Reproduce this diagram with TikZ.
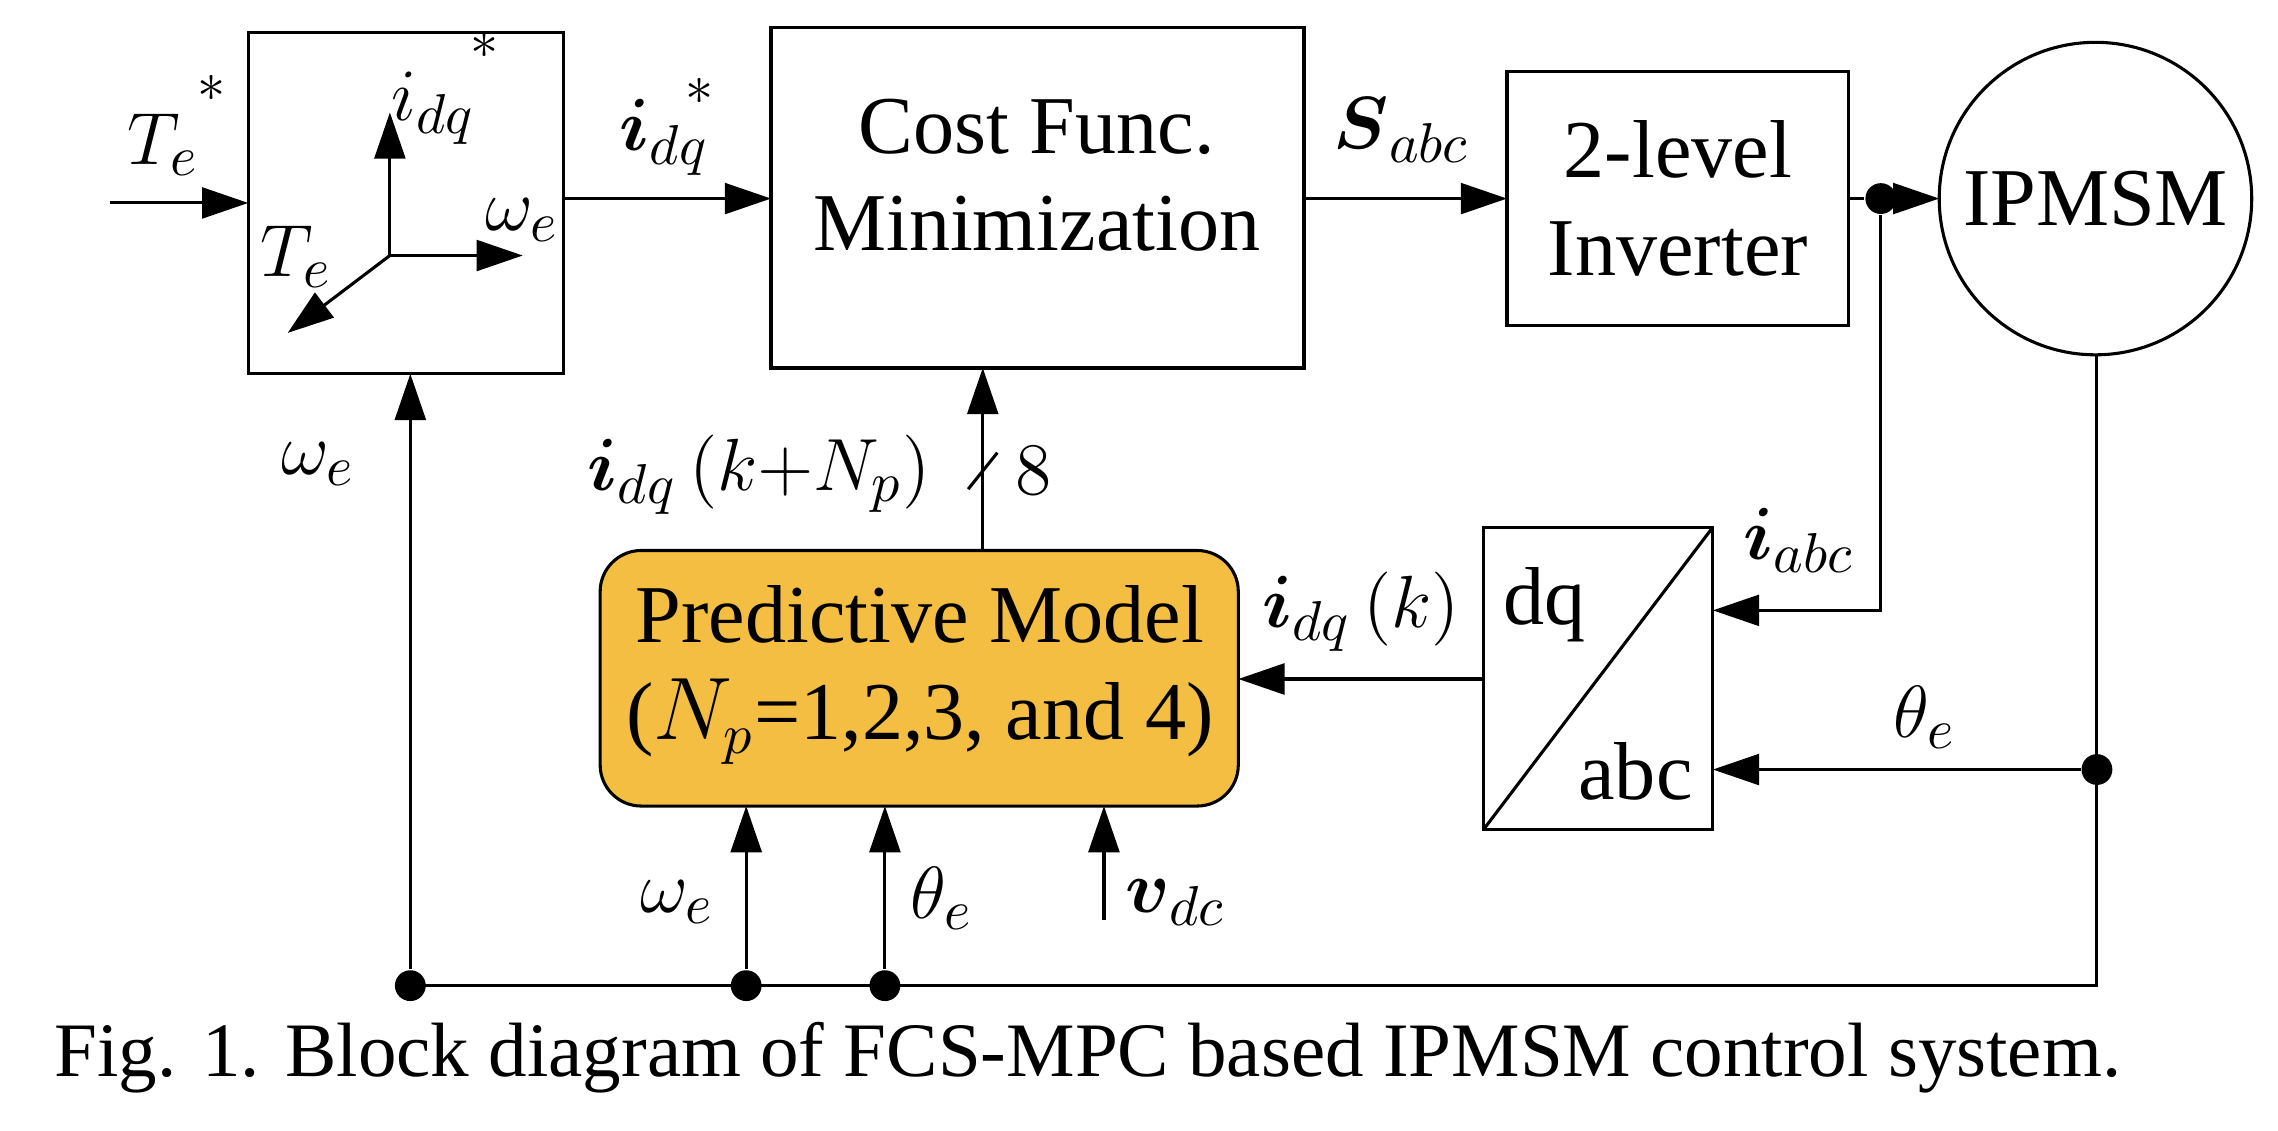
\documentclass[tikz,border=0pt]{standalone}
\usepackage{amsmath}
\usepackage{amssymb}
\usepackage{fontspec}
\setmainfont{Liberation Serif}
\usepackage{tikz}
\usetikzlibrary{calc, arrows.meta, positioning}

\tikzset{
  blk/.style={draw, line width=0.6pt, inner sep=0pt},
  sig/.style={-{Triangle[length=9pt,width=6pt]}, line width=0.6pt},
  dot/.style={fill, circle, inner sep=0pt, minimum size=6pt},
  txt/.style={font=\fontsize{16}{19}\selectfont, align=center}
}

\begin{document}
\begin{tikzpicture}[x=0.01cm, y=-0.01cm, font=\fontsize{15}{18}\selectfont]
        \useasboundingbox (0,0) rectangle (1560,774);

        % blocks
        \draw[blk] (170,22) rectangle (386,256);
        \draw[blk] (528,19) rectangle (893,252);
        \node[txt] (cost) at (710,120) {Cost Func.\\Minimization};
        \draw[blk] (1032,49) rectangle (1266,223);
        \node[txt] (inv) at (1149,136) {2-level\\Inverter};
        \draw[line width=0.6pt] (1435,136) circle (107);
        \node[txt] (mot) at (1435,136) {IPMSM};
        \draw[blk] (1016,361) rectangle (1173,568);
        \draw[line width=0.6pt] (1016,568) -- (1173,361);
        \node[txt] (dq) at (1058,414) {dq};
        \node[txt] (abc) at (1120,528) {abc};
        \draw[blk, fill={rgb,255:red,243;green,190;blue,65}, rounded corners=8pt] (411,377) rectangle (848,552);
        \node[txt] (pm) at (630,462) {Predictive Model\\($N_p$=1,2,3, and 4)};

        % axes inside reference block
        \coordinate (o) at (267,175);
        \draw[sig] (o) -- (267,77);
        \draw[sig] (o) -- (358,175);
        \draw[sig] (o) -- (197,228);
        \node (lid) at (297,74) {$i_{dq}$};
        \node (lst) at (333,40) {$^*$};
        \node (lwe) at (358,151) {$\omega_e$};
        \node (lte) at (203,176) {$T_e$};

        % forward path
        \draw[sig] (75,139) -- (170,139);
        \node at (112,99) {$T_e$};
        \node at (146,70) {$^*$};
        \draw[sig] (386,136) -- (528,136);
        \node at (455,94) {$\boldsymbol{i}_{dq}$};
        \node at (480,72) {$^*$};
        \draw[sig] (893,136) -- (1032,136);
        \node at (960,89) {$\boldsymbol{S}_{abc}$};
        \node[dot] (d1) at (1288,136) {};
        \draw[line width=0.6pt] (1266,136) -- (d1);
        \draw[sig] (d1) -- (1328,136);

        % feedback
        \draw[sig] (d1) |- (1173,418);
        \node at (1232,370) {$\boldsymbol{i}_{abc}$};
        \node[dot] (d2) at (1436,527) {};
        \draw[line width=0.6pt] (1436,243) -- (1436,675) -- (281,675);
        \draw[sig] (d2) -- (1173,527);
        \node at (1318,491) {$\theta_e$};
        \draw[sig] (1016,465) -- (848,465);
        \node at (932,419) {$\boldsymbol{i}_{dq}\,(k)$};
        \draw[sig] (673,377) -- (673,252);
        \draw[line width=0.6pt] (663,335) -- (683,310);
        \node at (708,322) {$8$};
        \node at (520,325) {$\boldsymbol{i}_{dq}\,(k{+}N_p)$};

        % bottom bus
        \node[dot] (b1) at (281,675) {};
        \node[dot] (b2) at (511,675) {};
        \node[dot] (b3) at (606,675) {};
        \draw[sig] (b1) -- (281,256);
        \draw[sig] (b2) -- (511,552);
        \draw[sig] (b3) -- (606,552);
        \draw[sig] (756,630) -- (756,552);
        \node at (218,318) {$\omega_e$};
        \node at (464,618) {$\omega_e$};
        \node at (645,615) {$\theta_e$};
        \node at (805,618) {$\boldsymbol{v}_{dc}$};

        \node[font=\fontsize{15}{18}\selectfont] (cap) at (745,724) {Fig. 1. Block diagram of FCS-MPC based IPMSM control system.};
    \end{tikzpicture}
\end{document}
